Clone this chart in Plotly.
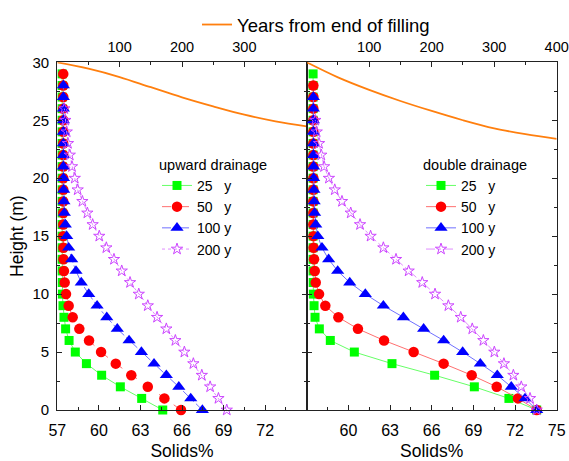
import plotly.graph_objects as go

# ---------------- data ----------------
HEIGHT_M = [0, 1, 2, 3, 4, 5, 6, 7, 8, 9, 10, 11, 12, 13, 14, 15, 16, 17, 18, 19,
            20, 21, 22, 23, 24, 25, 26, 27, 28, 29]

# upward drainage (left panel) - solids % at each height
UP_25Y = [64.61, 63.09, 61.55, 60.20, 59.10, 58.30, 57.85, 57.60, 57.48, 57.41,
          57.37, 57.36, 57.35, 57.35, 57.35, 57.35, 57.35, 57.35, 57.35, 57.35,
          57.35, 57.35, 57.35, 57.35, 57.35, 57.35, 57.35, 57.35, 57.35, 57.35]
UP_50Y = [65.93, 64.73, 63.53, 62.34, 61.22, 60.16, 59.29, 58.59, 58.11, 57.82,
          57.63, 57.53, 57.48, 57.45, 57.44, 57.43, 57.43, 57.43, 57.43, 57.43,
          57.43, 57.43, 57.43, 57.43, 57.43, 57.43, 57.43, 57.43, 57.43, 57.43]
UP_100Y = [67.47, 66.63, 65.77, 64.87, 63.98, 63.07, 62.18, 61.33, 60.57, 59.87,
           59.27, 58.73, 58.35, 58.04, 57.82, 57.68, 57.58, 57.51, 57.48, 57.46,
           57.45, 57.44, 57.44, 57.44, 57.44, 57.44, 57.44, 57.44, 57.44]
UP_200Y = [69.23, 68.63, 68.03, 67.43, 66.82, 66.17, 65.52, 64.87, 64.20, 63.53,
           62.88, 62.25, 61.65, 61.09, 60.54, 60.03, 59.55, 59.17, 58.81, 58.47,
           58.26, 58.06, 57.90, 57.77, 57.68, 57.58, 57.51]

# double drainage (right panel)
DB_25Y = [73.56, 71.56, 69.07, 66.21, 63.14, 60.43, 58.70, 57.91, 57.60, 57.53,
          57.48, 57.47, 57.46, 57.46, 57.46, 57.46, 57.46, 57.46, 57.46, 57.46,
          57.46, 57.46, 57.46, 57.46, 57.46, 57.46, 57.46, 57.46, 57.46, 57.46]
DB_50Y = [73.56, 72.21, 70.68, 68.88, 66.86, 64.70, 62.57, 60.69, 59.28, 58.34,
          57.89, 57.65, 57.58, 57.53, 57.50, 57.49, 57.48, 57.48, 57.48, 57.48,
          57.48, 57.48, 57.48, 57.48, 57.48, 57.48, 57.48, 57.48, 57.48]
DB_100Y = [73.56, 72.72, 71.73, 70.72, 69.50, 68.23, 66.86, 65.42, 63.96, 62.52,
           61.22, 60.10, 59.23, 58.58, 58.10, 57.80, 57.65, 57.57, 57.54, 57.52,
           57.50, 57.50, 57.49, 57.49, 57.48, 57.48, 57.48, 57.48]
DB_200Y = [73.56, 73.08, 72.45, 71.88, 71.20, 70.51, 69.72, 68.92, 68.09, 67.20,
           66.24, 65.32, 64.34, 63.43, 62.52, 61.60, 60.84, 60.17, 59.54, 59.02,
           58.60, 58.25, 58.05, 57.89, 57.72, 57.62]

# surface height vs years from end of filling
YEARS = [0, 50, 100, 150, 200, 250, 300, 350, 400]
SURF_UP = [30.0, 29.45, 28.73, 27.85, 26.98, 26.20, 25.48, 24.90, 24.47]
SURF_DB = [30.0, 28.70, 27.62, 26.66, 25.80, 25.00, 24.30, 23.80, 23.40]

SERIES_NAMES = ["25\u00a0\u00a0\u00a0y", "50\u00a0\u00a0\u00a0y", "100 y", "200 y"]
X_TICKS_L = [57, 60, 63, 66, 69, 72]
X_TICKS_R = [60, 63, 66, 69, 72, 75]
TOP_TICKS_L = [100, 200, 300]
TOP_TICKS_R = [100, 200, 300, 400]

# ---------------- styling ----------------
FONT = "Liberation Sans, Arial, sans-serif"
FRAME = "#222222"
W, H = 569, 461
XL = [57.3 / W, 306.7 / W]
XR = [306.7 / W, 556.7 / W]
YD = [(H - 410) / H, (H - 62.3) / H]

styles = [
    dict(symbol="square", size=9, color="#00ff00", line="#66ff66"),
    dict(symbol="circle", size=10.5, color="#ff0000", line="#ff7070"),
    dict(symbol="triangle-up", size=11.5, color="#0000ff", line="#7070ff"),
    dict(symbol="star-open", size=8.5, color="#cc44ff", line="#e08cff"),
]
dash_up = ["solid", "dash", "dashdot", "dot"]
dash_db = ["solid", "solid", "solid", "dashdot"]

fig = go.Figure()

fig.add_trace(go.Scatter(x=YEARS, y=SURF_UP, xaxis="x3", yaxis="y", mode="lines",
                         line=dict(color="#ff7f0e", width=1.8, shape="spline"),
                         name="Years from end of filling", legend="legend"))
fig.add_trace(go.Scatter(x=YEARS, y=SURF_DB, xaxis="x4", yaxis="y2", mode="lines",
                         line=dict(color="#ff7f0e", width=1.8, shape="spline"),
                         showlegend=False))

for vals, st, dsh, nm in zip([UP_25Y, UP_50Y, UP_100Y, UP_200Y], styles, dash_up, SERIES_NAMES):
    fig.add_trace(go.Scatter(
        x=vals, y=HEIGHT_M[:len(vals)], xaxis="x", yaxis="y", mode="lines+markers",
        name=nm, legend="legend2", cliponaxis=False,
        line=dict(color=st["line"], width=1, dash=dsh),
        marker=dict(symbol=st["symbol"], size=st["size"], color=st["color"],
                    line=dict(width=1 if "open" in st["symbol"] else 0, color=st["color"]))))

for vals, st, dsh, nm in zip([DB_25Y, DB_50Y, DB_100Y, DB_200Y], styles, dash_db, SERIES_NAMES):
    fig.add_trace(go.Scatter(
        x=vals, y=HEIGHT_M[:len(vals)], xaxis="x2", yaxis="y2", mode="lines+markers",
        name=nm, legend="legend3", cliponaxis=False,
        line=dict(color=st["line"], width=1, dash=dsh),
        marker=dict(symbol=st["symbol"], size=st["size"], color=st["color"],
                    line=dict(width=1 if "open" in st["symbol"] else 0, color=st["color"]))))

common_x = dict(range=[57, 75], showline=True, linecolor=FRAME, linewidth=1.3,
                ticks="inside", ticklen=5, tickwidth=1.2, tickcolor=FRAME,
                showgrid=False, zeroline=False, tickfont=dict(size=16, color="black"),
                ticklabelstandoff=6, automargin=False,
                minor=dict(tick0=57, dtick=1.5, ticks="inside", ticklen=3, tickcolor=FRAME),
                title=dict(text="Solids%", font=dict(size=17.5, color="black"), standoff=12))
common_top = dict(range=[0, 400], side="top", showline=True, linecolor=FRAME, linewidth=1.3,
                  ticks="inside", ticklen=5, tickwidth=1.2, tickcolor=FRAME,
                  showgrid=False, zeroline=False, tickfont=dict(size=14.5, color="black"),
                  ticklabelstandoff=3, automargin=False,
                  minor=dict(tick0=0, dtick=50, ticks="inside", ticklen=3, tickcolor=FRAME))
common_y = dict(range=[0, 30], domain=YD, showline=True, linecolor=FRAME, linewidth=1.3,
                ticks="inside", ticklen=5, tickwidth=1.2, tickcolor=FRAME, mirror="ticks",
                tickvals=[0, 5, 10, 15, 20, 25, 30], automargin=False,
                showgrid=False, zeroline=False, tickfont=dict(size=15, color="black"),
                minor=dict(tick0=0, dtick=2.5, ticks="inside", ticklen=3, tickcolor=FRAME))

fig.update_layout(
    width=W, height=H, margin=dict(l=0, r=0, t=0, b=0),
    paper_bgcolor="white", plot_bgcolor="white",
    font=dict(family=FONT, color="black"),
    xaxis=dict(domain=XL, anchor="y", tickvals=X_TICKS_L, **common_x),
    xaxis2=dict(domain=XR, anchor="y2", tickvals=X_TICKS_R, **common_x),
    xaxis3=dict(overlaying="x", anchor="y", tickvals=TOP_TICKS_L, **common_top),
    xaxis4=dict(overlaying="x2", anchor="y2", tickvals=TOP_TICKS_R, **common_top),
    yaxis=dict(anchor="x", title=dict(text="Height (m)", font=dict(size=17.5), standoff=4),
               ticklabelstandoff=4, **common_y),
    yaxis2=dict(anchor="x2", showticklabels=False, **common_y),
    legend=dict(x=197 / W, y=1 - 6 / H, xanchor="left", yanchor="top",
                bgcolor="rgba(0,0,0,0)", font=dict(size=18.5), borderwidth=0),
    legend2=dict(x=157 / W, y=1 - 151 / H, xanchor="left", yanchor="top",
                 bgcolor="rgba(0,0,0,0)", font=dict(size=14),
                 title=dict(text="upward drainage", font=dict(size=14.5))),
    legend3=dict(x=421 / W, y=1 - 151 / H, xanchor="left", yanchor="top",
                 bgcolor="rgba(0,0,0,0)", font=dict(size=14),
                 title=dict(text="double drainage", font=dict(size=14.5))),
)

fig.write_html("out.html")
